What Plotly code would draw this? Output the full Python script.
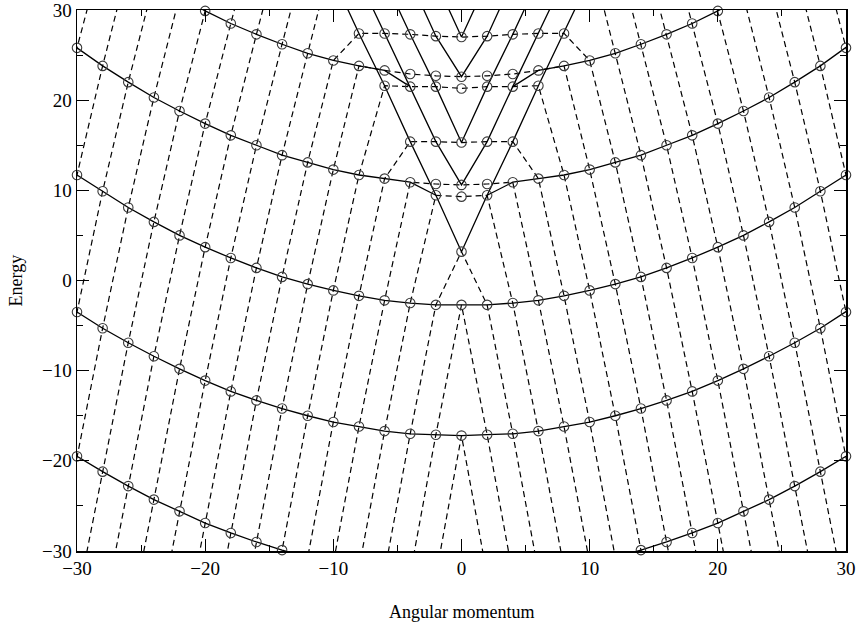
import plotly.graph_objects as go

# Angular momentum values (even m), including a few just outside the plotted range
m_vals = [-34, -32, -30, -28, -26, -24, -22, -20, -18, -16, -14, -12, -10, -8, -6, -4, -2, 0,
          2, 4, 6, 8, 10, 12, 14, 16, 18, 20, 22, 24, 26, 28, 30, 32, 34]

# Parabolic bands (values beyond the frame are estimates)
band_m1 = [-32.0, -33.9, -35.6, -37.3, -38.8, -40.3, -41.6, -42.8, -43.9, -44.8, -45.7, -46.4, -47.1, -47.6, -48.0, -48.3, -48.4, -48.5,
           -48.4, -48.3, -48.0, -47.6, -47.1, -46.4, -45.7, -44.8, -43.9, -42.8, -41.6, -40.3, -38.8, -37.3, -35.6, -33.9, -32.0]
band_0 = [-15.7, -17.6, -19.5, -21.2, -22.8, -24.3, -25.6, -26.9, -28.0, -29.0, -29.9, -30.7, -31.3, -31.9, -32.3, -32.6, -32.7, -32.8,
          -32.7, -32.6, -32.3, -31.9, -31.3, -30.7, -29.9, -29.0, -28.0, -26.9, -25.6, -24.3, -22.8, -21.2, -19.5, -17.6, -15.7]
band_1 = [0.4, -1.6, -3.5, -5.3, -6.9, -8.4, -9.8, -11.1, -12.3, -13.3, -14.2, -15.0, -15.7, -16.2, -16.7, -17.0, -17.1, -17.2,
          -17.1, -17.0, -16.7, -16.2, -15.7, -15.0, -14.2, -13.3, -12.3, -11.1, -9.8, -8.4, -6.9, -5.3, -3.5, -1.6, 0.4]
band_2 = [15.9, 13.7, 11.7, 9.9, 8.1, 6.5, 5.0, 3.7, 2.5, 1.4, 0.4, -0.4, -1.1, -1.7, -2.2, -2.5, -2.7, -2.7,
          -2.7, -2.5, -2.2, -1.7, -1.1, -0.4, 0.4, 1.4, 2.5, 3.7, 5.0, 6.5, 8.1, 9.9, 11.7, 13.7, 15.9]
band_3 = [30.1, 27.9, 25.8, 23.8, 22.0, 20.3, 18.8, 17.4, 16.1, 15.0, 13.9, 13.1, 12.3, 11.7, 11.3, 10.9, 10.7, 10.6,
          10.7, 10.9, 11.3, 11.7, 12.3, 13.1, 13.9, 15.0, 16.1, 17.4, 18.8, 20.3, 22.0, 23.8, 25.8, 27.9, 30.1]
band_4 = [43.8, 41.3, 39.1, 37.0, 35.0, 33.1, 31.5, 29.9, 28.5, 27.3, 26.2, 25.2, 24.4, 23.8, 23.3, 22.9, 22.7, 22.6,
          22.7, 22.9, 23.3, 23.8, 24.4, 25.2, 26.2, 27.3, 28.5, 29.9, 31.5, 33.1, 35.0, 37.0, 39.1, 41.3, 43.8]
band_5 = [56.5, 54.0, 51.6, 49.4, 47.3, 45.4, 43.7, 42.1, 40.7, 39.4, 38.2, 37.2, 36.4, 35.7, 35.2, 34.8, 34.6, 34.5,
          34.6, 34.8, 35.2, 35.7, 36.4, 37.2, 38.2, 39.4, 40.7, 42.1, 43.7, 45.4, 47.3, 49.4, 51.6, 54.0, 56.5]

# Central (oscillator-like) levels
ground_m = [0]
ground_E = [3.2]
row1_m = [-2, 0, 2]
row1_E = [9.45, 9.3, 9.45]
row2_m = [-4, -2, 0, 2, 4]
row2_E = [15.4, 15.4, 15.3, 15.4, 15.4]
row3_m = [-6, -4, -2, 0, 2, 4, 6]
row3_E = [21.6, 21.5, 21.5, 21.3, 21.5, 21.5, 21.6]
row4_m = [-8, -6, -4, -2, 0, 2, 4, 6, 8]
row4_E = [27.4, 27.4, 27.3, 27.1, 27.0, 27.1, 27.3, 27.4, 27.4]
# where the straight V-lines leave the frame (estimates just above the top)
vtop_m = [10, 8, 6, 4, 2]
vtop_E = [33.5, 33.4, 33.4, 33.3, 33.2]

x_title = "Angular momentum"
y_title = "Energy"

bands = {-1: band_m1, 0: band_0, 1: band_1, 2: band_2, 3: band_3, 4: band_4, 5: band_5}
rows = {1: dict(zip(row1_m, row1_E)), 2: dict(zip(row2_m, row2_E)),
        3: dict(zip(row3_m, row3_E)), 4: dict(zip(row4_m, row4_E))}


def B(n, m):
    return bands[n][m_vals.index(m)]


def R(k, m):
    return rows[k][m]


def mirror(pts):
    return [(-m, e) for (m, e) in reversed(pts) if m != 0]


# ---------- dashed chains ----------
dx, dy = [], []


def add_dash(pts):
    for m, e in pts:
        dx.append(m)
        dy.append(e)
    dx.append(None)
    dy.append(None)


top_parts = {
    -2: (1, []),
    -4: (2, []),
    -6: (2, list(zip(ground_m, ground_E))),
    -8: (2, list(zip(row1_m, row1_E))),
    -10: (3, [(m, B(3, m)) for m in (-2, 0, 2)]),
    -12: (3, list(zip(row2_m, row2_E))),
    -14: (3, list(zip(row3_m, row3_E))),
    -16: (4, [(m, B(4, m)) for m in (-6, -4, -2, 0, 2, 4, 6)]),
    -18: (4, list(zip(row4_m, row4_E))),
}

for c in range(-2, -40, -2):
    if c in top_parts:
        nmax, top = top_parts[c]
    else:
        nmax, top = 5, None
    left = []
    for n in range(-1, nmax + 1):
        m = c + 2 * n
        if m in m_vals:
            left.append((m, B(n, m)))
    if top is None:
        add_dash(left)
        add_dash(mirror(left))
    else:
        right = [(-m, e) for (m, e) in reversed(left) if m != 0]
        add_dash(left + top + right)

# ---------- solid lines ----------
sx, sy = [], []


def add_solid(pts):
    for m, e in pts:
        sx.append(m)
        sy.append(e)
    sx.append(None)
    sy.append(None)


for n in (0, 1, 2):
    add_solid([(m, B(n, m)) for m in m_vals])

p3_left = [(m, B(3, m)) for m in m_vals if m <= -4] + [(-2, R(1, -2))]
add_solid(p3_left)
add_solid(mirror(p3_left))
p4_left = [(m, B(4, m)) for m in m_vals if m <= -6] + [(-4, R(3, -4))]
add_solid(p4_left)
add_solid(mirror(p4_left))

v_lines = [
    [(-vtop_m[0], vtop_E[0]), (-8, R(4, -8)), (-6, R(3, -6)), (-4, R(2, -4)), (-2, R(1, -2)), (0, ground_E[0])],
    [(-vtop_m[1], vtop_E[1]), (-6, R(4, -6)), (-4, R(3, -4)), (-2, R(2, -2)), (0, B(3, 0))],
    [(-vtop_m[2], vtop_E[2]), (-4, R(4, -4)), (-2, R(3, -2)), (0, R(2, 0))],
    [(-vtop_m[3], vtop_E[3]), (-2, R(4, -2)), (0, B(4, 0))],
    [(-vtop_m[4], vtop_E[4]), (0, R(4, 0))],
]
for v in v_lines:
    add_solid(v + mirror(v))

# ---------- markers ----------
mx, my = [], []
for n in (0, 1, 2, 3, 4):
    for m in m_vals:
        e = B(n, m)
        if -30 <= m <= 30 and -30.2 <= e <= 30.2:
            mx.append(m)
            my.append(e)
for ms, es in ((ground_m, ground_E), (row1_m, row1_E), (row2_m, row2_E), (row3_m, row3_E), (row4_m, row4_E)):
    mx.extend(ms)
    my.extend(es)

fig = go.Figure()
fig.add_trace(go.Scatter(x=dx, y=dy, mode="lines", connectgaps=False,
                         line=dict(color="black", width=1.2, dash="6px,4px"),
                         hoverinfo="skip", showlegend=False))
fig.add_trace(go.Scatter(x=sx, y=sy, mode="lines", connectgaps=False,
                         line=dict(color="black", width=1.3),
                         hoverinfo="skip", showlegend=False))
fig.add_trace(go.Scatter(x=mx, y=my, mode="markers", cliponaxis=False,
                         marker=dict(symbol="circle-open", size=9.5, color="#3a3a3a",
                                     line=dict(width=1.1, color="#3a3a3a")),
                         hoverinfo="skip", showlegend=False))

serif = "Liberation Serif, Times New Roman, serif"
axis_common = dict(range=[-30, 30], showline=True, linecolor="black", linewidth=1.5,
                   mirror="ticks", ticks="inside", ticklen=12, tickwidth=1.2, tickcolor="black",
                   dtick=10, tick0=0, showgrid=False, zeroline=False, automargin=False,
                   ticklabeloverflow="allow",
                   minor=dict(ticks="inside", ticklen=6, tickwidth=1, tickcolor="black", dtick=5),
                   tickfont=dict(family=serif, size=19, color="black"))

fig.update_layout(
    width=863, height=627,
    margin=dict(l=77, r=17, t=10, b=76, autoexpand=False),
    paper_bgcolor="white", plot_bgcolor="white",
    hovermode=False,
    xaxis=dict(**axis_common),
    yaxis=dict(**axis_common),
    annotations=[
        dict(text=x_title, xref="paper", yref="paper", x=0.5, y=-0.1128,
             xanchor="center", yanchor="middle", showarrow=False,
             font=dict(family=serif, size=18, color="black")),
        dict(text=y_title, xref="paper", yref="paper", x=-0.0806, y=0.5,
             xanchor="center", yanchor="middle", showarrow=False, textangle=-90,
             font=dict(family=serif, size=18, color="black")),
    ],
)

fig.write_html("out.html", config={"displayModeBar": False, "staticPlot": True},
               post_script="document.body.style.margin='0';document.body.style.overflow='hidden';")
